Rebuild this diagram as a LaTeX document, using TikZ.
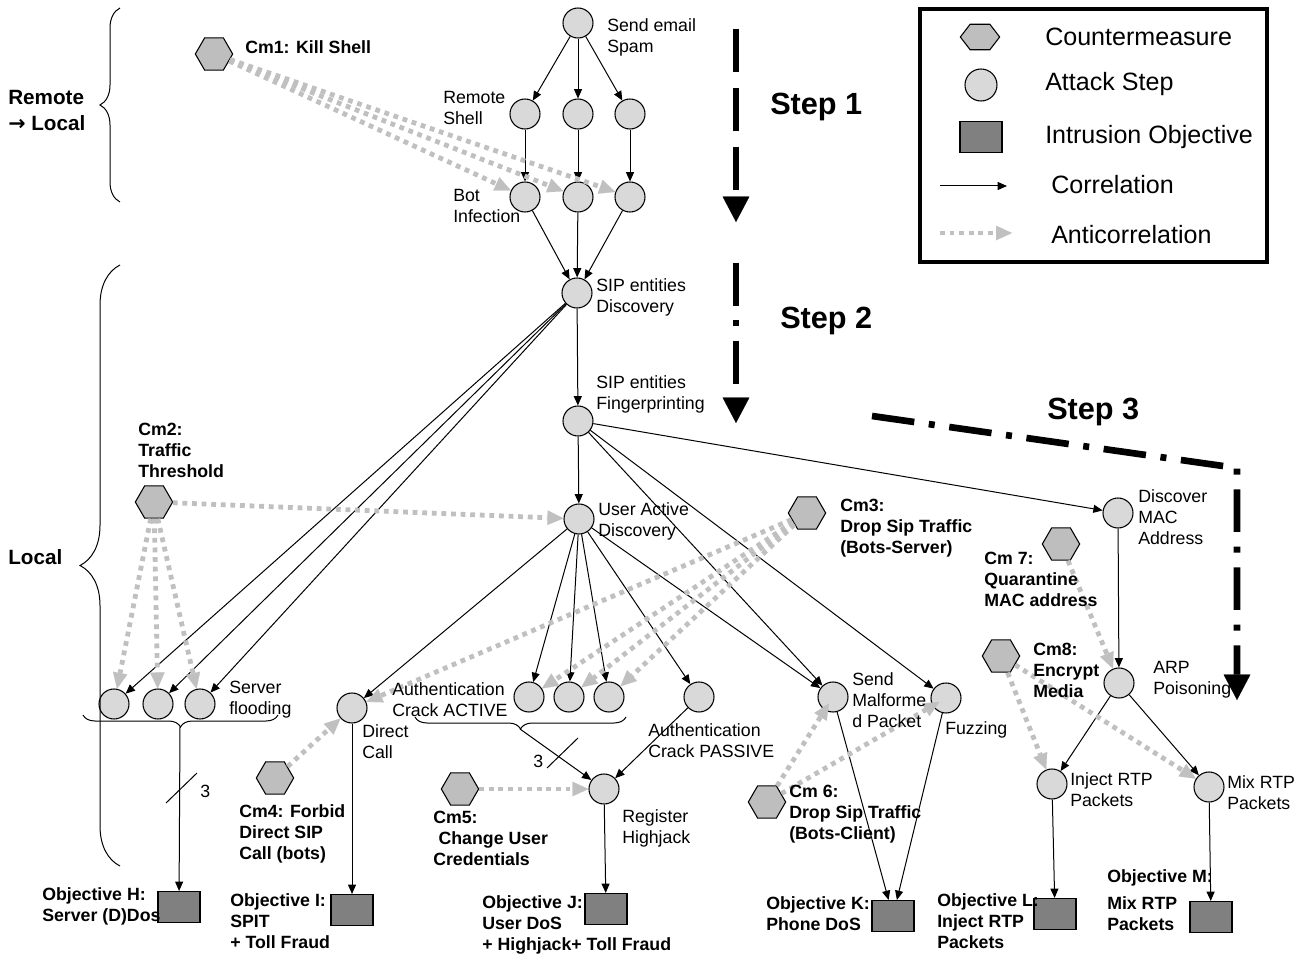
\documentclass[tikz,border=0pt]{standalone}
\usepackage{fontspec}
\setmainfont{Liberation Sans}
\newfontfamily\symfont{DejaVu Sans}
\usetikzlibrary{shapes.geometric,arrows.meta,decorations.pathreplacing}
\definecolor{stepgray}{RGB}{217,217,217}
\definecolor{hexgray}{RGB}{190,190,190}
\definecolor{objgray}{RGB}{128,128,128}
\definecolor{antigray}{RGB}{192,192,192}
\begin{document}
\begin{tikzpicture}[x=0.75pt, y=-0.75pt,
  attack/.style={circle, draw, fill=stepgray, line width=0.8pt, minimum size=22.5pt, inner sep=0pt},
  cmhex/.style={regular polygon, regular polygon sides=6, draw, fill=hexgray, line width=0.8pt, minimum size=28pt, inner sep=0pt},
  objbox/.style={rectangle, draw, fill=objgray, line width=0.8pt, minimum width=31.5pt, minimum height=23.25pt, inner sep=0pt},
  corr/.style={draw=black, line width=0.75pt, -{Triangle[length=7pt,width=6pt]}},
  anti/.style={draw=antigray, line width=3.6pt, dash pattern=on 3.6pt off 3.6pt, -{Triangle[length=12pt,width=11pt,line width=0.1pt]}},
  lbl/.style={anchor=west, inner sep=0pt, align=left, font=\fontsize{13.3pt}{15.75pt}\selectfont},
  blbl/.style={anchor=west, inner sep=0pt, align=left, font=\fontsize{13.3pt}{15.75pt}\selectfont\bfseries},
  leg/.style={anchor=west, inner sep=0pt, font=\fontsize{18.8pt}{22pt}\selectfont},
  steplbl/.style={anchor=west, inner sep=0pt, font=\fontsize{23pt}{27pt}\selectfont\bfseries},
  bigarrow/.style={line width=5pt, -{Triangle[length=19pt,width=20pt,line width=0.1pt]}},
  bracestyle/.style={decorate, line width=0.75pt},
  sidelbl/.style={anchor=west, inner sep=0pt, align=left, font=\fontsize{15.5pt}{19.5pt}\selectfont\bfseries}
]
\useasboundingbox (0,0) rectangle (1304,959);

% ---------- legend ----------
\draw[line width=3.5pt] (920,9) rectangle (1267,262);
\begin{scope}[shift={(980,37)}, yscale=0.75]
  \node[cmhex, minimum size=29.5pt, transform shape] (lghex) at (0,0) {};
\end{scope}
\node[attack, minimum size=24pt] (lgcirc) at (981,85) {};
\node[objbox] (lgbox) at (981,137) {};
\coordinate (lgc1) at (940,186); \coordinate (lgc2) at (1007,186);
\coordinate (lga1) at (940,233); \coordinate (lga2) at (1012,233);
\draw[corr] (lgc1) -- (lgc2);
\draw[anti] (lga1) -- (lga2);
\node[leg] (lt1) at (1045,37) {Countermeasure};
\node[leg] (lt2) at (1045,84) {Attack Step};
\node[leg] (lt3) at (1045,137) {Intrusion Objective};
\node[leg] (lt4) at (1051,185) {Correlation};
\node[leg] (lt5) at (1051,235) {Anticorrelation};

% ---------- attack steps ----------
\node[attack] (send) at (578,23) {};
\node[attack] (rs1) at (525,114) {};
\node[attack] (rs2) at (578,114) {};
\node[attack] (rs3) at (630,114) {};
\node[attack] (bot1) at (525,197) {};
\node[attack] (bot2) at (578,197) {};
\node[attack] (bot3) at (630,197) {};
\node[attack] (sipd) at (577,293) {};
\node[attack] (fing) at (578,421) {};
\node[attack] (uad) at (579,519) {};
\node[attack] (sf1) at (114,704) {};
\node[attack] (sf2) at (158,704) {};
\node[attack] (sf3) at (200,704) {};
\node[attack] (dc) at (352,708) {};
\node[attack] (aa1) at (529,697) {};
\node[attack] (aa2) at (569,697) {};
\node[attack] (aa3) at (609,697) {};
\node[attack] (ap) at (699,697) {};
\node[attack] (smp) at (833,697) {};
\node[attack] (fuzz) at (946,698) {};
\node[attack] (dmac) at (1118,513) {};
\node[attack] (arp) at (1119,683) {};
\node[attack] (inj) at (1052,784) {};
\node[attack] (mix) at (1209,787) {};
\node[attack] (reg) at (604,789) {};

% ---------- countermeasures ----------
\node[cmhex] (cm1) at (214,54) {};
\node[cmhex] (cm2) at (154,502) {};
\node[cmhex] (cm3) at (807,513) {};
\node[cmhex] (cm4) at (275,778) {};
\node[cmhex] (cm5) at (460,789) {};
\node[cmhex] (cm6) at (767,802) {};
\node[cmhex] (cm7) at (1061,544) {};
\node[cmhex] (cm8) at (1001,656) {};

% ---------- objectives ----------
\node[objbox] (oH) at (179,907) {};
\node[objbox] (oI) at (352,910) {};
\node[objbox] (oJ) at (606,909) {};
\node[objbox] (oK) at (893,916) {};
\node[objbox] (oL) at (1055,914) {};
\node[objbox] (oM) at (1211,917) {};

% ---------- braces ----------
\draw[bracestyle, decoration={brace, amplitude=15pt}] (120,202) -- (120,8);
\draw[bracestyle, decoration={brace, amplitude=30pt}] (120,866) -- (120,265);
\draw[bracestyle, decoration={brace, amplitude=9pt}] (278,715) -- (83,715);
\draw[bracestyle, decoration={brace, amplitude=9pt}] (626,717) -- (415,717);
\coordinate (floodtip) at (180,727);
\coordinate (authtip) at (520,729);

% ---------- correlation edges ----------
\foreach \n in {rs1,rs2,rs3} \draw[corr] (send) -- (\n);
\draw[corr] (rs1) -- (bot1);
\draw[corr] (rs2) -- (bot2);
\draw[corr] (rs3) -- (bot3);
\foreach \n in {bot1,bot2,bot3} \draw[corr] (\n) -- (sipd);
\draw[corr] (sipd) -- (fing);
\foreach \n in {sf1,sf2,sf3} \draw[corr] (sipd) -- (\n);
\draw[corr] (fing) -- (uad);
\draw[corr] (fing) -- (smp);
\draw[corr] (fing) -- (fuzz);
\draw[corr] (fing) -- (dmac);
\foreach \n in {dc,aa1,aa2,aa3,ap,smp} \draw[corr] (uad) -- (\n);
\draw[corr] (dmac) -- (arp);
\draw[corr] (arp) -- (inj);
\draw[corr] (arp) -- (mix);
\draw[corr] (authtip) -- (reg);
\draw[corr] (ap) -- (reg);
\draw[corr] (reg) -- (oJ);
\draw[corr] (dc) -- (oI);
\draw[corr] (floodtip) -- (oH);
\draw[corr] (smp) -- (oK);
\draw[corr] (fuzz) -- (oK);
\draw[corr] (inj) -- (oL);
\draw[corr] (mix) -- (oM);

% tick marks
\draw[line width=0.75pt] (166,803) -- (197,773);
\draw[line width=0.75pt] (547,768) -- (578,738);
\node[lbl] (three1) at (200,791) {3};
\node[lbl] (three2) at (533,761) {3};

% ---------- anticorrelation edges ----------
\foreach \n in {bot1,bot2,bot3} \draw[anti] (cm1) -- (\n);
\draw[anti] (cm2) -- (uad);
\foreach \n in {sf1,sf2,sf3} \draw[anti] (cm2) -- (\n);
\foreach \n in {dc,aa1,aa2,aa3} \draw[anti] (cm3) -- (\n);
\draw[anti] (cm4) -- (dc);
\draw[anti] (cm5) -- (reg);
\draw[anti, shorten >=-6pt] (cm6) -- (smp);
\draw[anti, shorten >=-6pt] (cm6) -- (fuzz);
\draw[anti] (cm7) -- (arp);
\draw[anti] (cm8) -- (inj);
\draw[anti] (cm8) -- (mix);

% ---------- step arrows ----------
\coordinate (s1a) at (736,29); \coordinate (s1b) at (736,222);
\draw[bigarrow, dash pattern=on 32.25pt off 12pt] (s1a) -- (s1b);
\coordinate (s2a) at (736,263); \coordinate (s2b) at (736,423);
\draw[bigarrow, dash pattern=on 32pt off 11pt on 4.5pt off 11pt] (s2a) -- (s2b);
\coordinate (s3a) at (872,416); \coordinate (s3c) at (1237,468); \coordinate (s3b) at (1237,700);
\draw[bigarrow, dash pattern=on 32pt off 11pt on 4.5pt off 11pt] (s3a) -- (s3c) -- (s3b);
\node[steplbl] (st1) at (770,107) {Step 1};
\node[steplbl] (st2) at (780,321) {Step 2};
\node[steplbl] (st3) at (1047,412) {Step 3};

% ---------- side labels ----------
\node[sidelbl] (lremote) at (8,110) {Remote\\{\symfont\bfseries →} Local};
\node[sidelbl] (llocal) at (8,557) {Local};

% ---------- attack step labels ----------
\node[lbl] (tsend) at (607,37) {Send email\\Spam};
\node[lbl] (trs) at (443,108) {Remote\\Shell};
\node[lbl] (tbot) at (453,206) {Bot\\Infection};
\node[lbl] (tsipd) at (596,297) {SIP entities\\Discovery};
\node[lbl] (tfing) at (596,394) {SIP entities\\Fingerprinting};
\node[lbl] (tuad) at (598,521) {User Active\\Discovery};
\node[lbl] (tsf) at (229,700) {Server\\flooding};
\node[lbl] (tdc) at (362,742) {Direct\\Call};
\node[lbl] (taa) at (392,700) {Authentication\\Crack ACTIVE};
\node[lbl] (tap) at (648,741) {Authentication\\Crack PASSIVE};
\node[lbl] (treg) at (622,828) {Register\\Highjack};
\node[lbl] (tsmp) at (852,700) {Send\\Malforme\\d Packet};
\node[lbl] (tfuzz) at (945,730) {Fuzzing};
\node[lbl] (tdmac) at (1138,517) {Discover\\MAC\\Address};
\node[lbl] (tarp) at (1153,680) {ARP\\Poisoning};
\node[lbl] (tinj) at (1070,790) {Inject RTP\\Packets};
\node[lbl] (tmix) at (1227,793) {Mix RTP\\Packets};

% ---------- countermeasure labels ----------
\node[blbl] (tcm1) at (245,47) {Cm1: Kill Shell};
\node[blbl] (tcm2) at (138,450) {Cm2:\\Traffic\\Threshold};
\node[blbl] (tcm3) at (840,528) {Cm3:\\Drop Sip Traffic\\(Bots-Server)};
\node[blbl] (tcm4) at (239,834) {Cm4: Forbid\\Direct SIP\\Call (bots)};
\node[blbl] (tcm5) at (433,838) {Cm5:\\\hspace{0.3em}Change User\\Credentials};
\node[blbl] (tcm6) at (789,814) {Cm 6:\\Drop Sip Traffic\\(Bots-Client)};
\node[blbl] (tcm7) at (984,579) {Cm 7:\\Quarantine\\MAC address};
\node[blbl] (tcm8) at (1033,670) {Cm8:\\Encrypt\\Media};

% ---------- objective labels ----------
\node[blbl] (toH) at (42,906) {Objective H:\\Server (D)Dos};
\node[blbl] (toI) at (230,921) {Objective I:\\SPIT\\+ Toll Fraud};
\node[blbl] (toJ) at (482,925) {Objective J:\\User DoS\\+ Highjack+ Toll Fraud};
\node[blbl] (toK) at (766,914) {Objective K:\\Phone DoS};
\node[blbl] (toL) at (937,921) {Objective L:\\Inject RTP\\Packets};
\node[blbl] (toM) at (1107,900) {Objective M:\\[4pt]Mix RTP\\Packets};
\end{tikzpicture}
\end{document}
